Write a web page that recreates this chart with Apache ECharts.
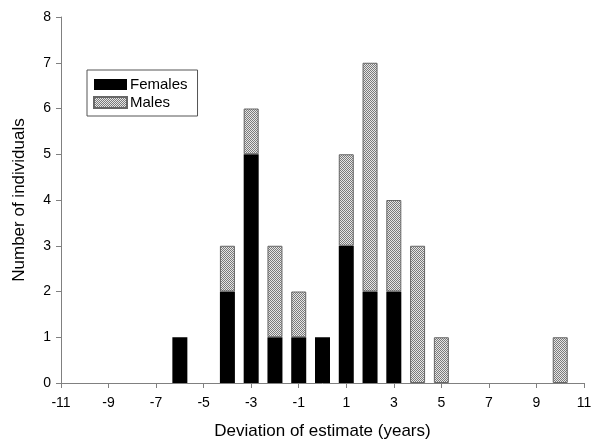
<!DOCTYPE html>
<html><head><meta charset="utf-8">
<script src="https://cdn.jsdelivr.net/npm/echarts@6/dist/echarts.min.js"></script>
<style>html,body{margin:0;padding:0;background:#fff}#c{width:595px;height:440px}</style>
</head><body><div id="c"></div>
<script>
const deviations = [-6, -4, -3, -2, -1, 0, 1, 2, 3, 4, 5, 10];
const females    = [ 1,  2,  5,  1,  1, 1, 3, 2, 2, 0, 0, 0];
const males      = [ 0,  1,  1,  2,  1, 0, 2, 5, 2, 3, 1, 1];
const xRange = [-11, 11];
const yTicks = [0, 8, 1];

const cats = [];
for (let v = xRange[0]; v <= xRange[1]; v++) cats.push(String(v));
const femData = cats.map(c => { const i = deviations.indexOf(Number(c)); return i < 0 || females[i] === 0 ? '-' : females[i]; });
const maleData = cats.map(c => { const i = deviations.indexOf(Number(c)); return i < 0 || males[i] === 0 ? '-' : males[i]; });

const pc = document.createElement('canvas');
pc.width = 2; pc.height = 2;
const g = pc.getContext('2d');
g.fillStyle = '#e6e6e6'; g.fillRect(0,0,2,2);
g.fillStyle = '#7a7a7a'; g.fillRect(0,0,1,1); g.fillRect(1,1,1,1);
const hatch = {image: pc, repeat: 'repeat'};

const oddOnly = (idx, val) => Math.abs(Number(val)) % 2 === 1;

const chart = echarts.init(document.getElementById('c'));
const font = 'Liberation Sans, Arial, sans-serif';
chart.setOption({
  animation: false,
  grid: {left: 61, right: 11, top: 17, bottom: 57, containLabel: false, outerBoundsMode: 'none'},
  legend: {
    orient: 'vertical', left: 87, top: 70,
    itemWidth: 33, itemHeight: 11, itemGap: 3,
    borderColor: '#555', borderWidth: 1,
    padding: [7, 10, 6, 6],
    textStyle: {fontFamily: font, fontSize: 15, color: '#000', padding: [0,0,0,-2]},
    data: [{name: 'Females', icon: 'rect'}, {name: 'Males', icon: 'rect'}]
  },
  xAxis: {
    type: 'category', data: cats, boundaryGap: false,
    name: 'Deviation of estimate (years)', nameLocation: 'middle', nameGap: 40,
    nameTextStyle: {fontFamily: font, fontSize: 17, color: '#000'},
    axisLine: {lineStyle: {color: '#808080'}},
    axisTick: {show: true, length: 5, interval: oddOnly, lineStyle: {color: '#808080'}},
    axisLabel: {fontFamily: font, fontSize: 14, color: '#000', margin: 13, interval: oddOnly},
    splitLine: {show: false}
  },
  yAxis: {
    type: 'value', min: yTicks[0], max: yTicks[1], interval: yTicks[2],
    name: 'Number of individuals', nameLocation: 'middle', nameGap: 33,
    nameTextStyle: {fontFamily: font, fontSize: 17, color: '#000'},
    axisLine: {show: true, lineStyle: {color: '#808080'}},
    axisTick: {show: true, length: 5, lineStyle: {color: '#808080'}},
    axisLabel: {fontFamily: font, fontSize: 14, color: '#000', margin: 10},
    splitLine: {show: false}
  },
  series: [
    {name: 'Females', type: 'bar', stack: 's', barWidth: 15,
     itemStyle: {color: '#000'}, data: femData},
    {name: 'Males', type: 'bar', stack: 's', barWidth: 15,
     itemStyle: {color: hatch, borderColor: '#666', borderWidth: 1}, data: maleData}
  ]
});
</script></body></html>
